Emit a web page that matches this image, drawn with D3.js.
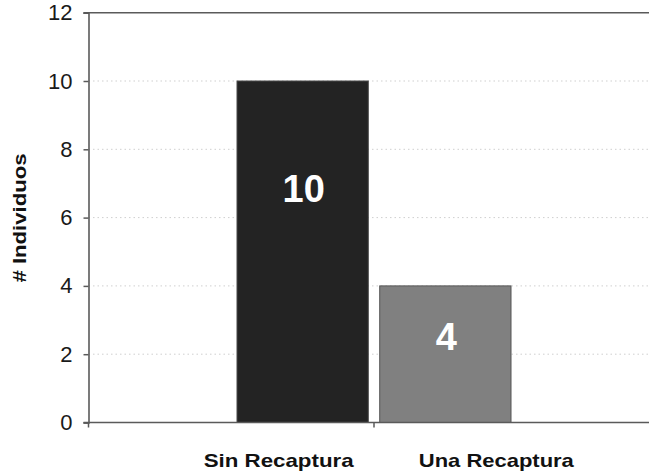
<!DOCTYPE html>
<html>
<head>
<meta charset="utf-8">
<script src="https://cdn.jsdelivr.net/npm/d3@7"></script>
<style>
  html, body { margin: 0; padding: 0; background: #fff; }
  svg { display: block; font-family: Arial, "Liberation Sans", sans-serif; }
</style>
</head>
<body>
<svg id="chart" width="649" height="473"></svg>
<script>
// ---- data ----
const categories = ["Sin Recaptura", "Una Recaptura"];
const values = [10, 4];
const barColors = ["#232323", "#808080"];
const yTicks = [0, 2, 4, 6, 8, 10, 12];
const yTitle = "# Individuos";

// ---- layout ----
const W = 649, H = 473;
const axisX = 88.5, axisY = 422.5, topY = 12.7;
const svg = d3.select("#chart");

const y = d3.scaleLinear().domain([0, 12]).range([axisY, topY]);
const x = d3.scaleBand().domain(categories).range([237, 511]).paddingInner(0.08);

// gridlines (dotted)
svg.append("g").selectAll("line")
  .data(yTicks.filter(t => t > 0 && t < 12))
  .join("line")
  .attr("x1", axisX).attr("x2", W)
  .attr("y1", d => y(d)).attr("y2", d => y(d))
  .attr("stroke", "#cfcfcf").attr("stroke-width", 1)
  .attr("stroke-dasharray", "1.5,3");

// top border line
svg.append("line")
  .attr("x1", axisX - 5).attr("x2", W)
  .attr("y1", y(12)).attr("y2", y(12))
  .attr("stroke", "#5a5a5a").attr("stroke-width", 1.6);

// bars
svg.append("g").selectAll("rect")
  .data(values)
  .join("rect")
  .attr("x", (d, i) => x(categories[i]))
  .attr("width", x.bandwidth())
  .attr("y", d => y(d))
  .attr("height", d => y(0) - y(d))
  .attr("fill", (d, i) => barColors[i])
  .attr("stroke", (d, i) => i === 0 ? "#4a4a4a" : "#555")
  .attr("stroke-width", 1);

// y axis
const yAxis = d3.axisLeft(y).tickValues(yTicks).tickSize(5).tickPadding(11).tickFormat(d3.format("d"));
const gy = svg.append("g").attr("transform", `translate(${axisX},0)`).call(yAxis);
gy.select(".domain").attr("stroke", "#5a5a5a").attr("stroke-width", 1.6);
gy.selectAll(".tick line").attr("stroke", "#5a5a5a").attr("stroke-width", 1.5);
gy.selectAll(".tick text")
  .attr("font-size", 22).attr("fill", "#1a1a1a")
  .attr("font-family", "Arial, 'Liberation Sans', sans-serif");

// x axis line
svg.append("line")
  .attr("x1", axisX - 5).attr("x2", W)
  .attr("y1", axisY).attr("y2", axisY)
  .attr("stroke", "#5a5a5a").attr("stroke-width", 1.6);

// x ticks: origin and between categories
const step = x.step();
const xTickPos = [axisX, x(categories[1]) - (step - x.bandwidth()) / 2];
svg.append("g").selectAll("line")
  .data(xTickPos)
  .join("line")
  .attr("x1", d => d).attr("x2", d => d)
  .attr("y1", axisY).attr("y2", axisY + 5)
  .attr("stroke", "#5a5a5a").attr("stroke-width", 1.5);

// category labels
const labelShift = [-24, 51];
const labelWidth = [150, 155];
svg.append("g").selectAll("text")
  .data(categories)
  .join("text")
  .attr("x", (d, i) => x(d) + x.bandwidth() / 2 + labelShift[i])
  .attr("y", 467)
  .attr("text-anchor", "middle")
  .attr("font-size", 18.5).attr("font-weight", "bold").attr("fill", "#111")
  .attr("textLength", (d, i) => labelWidth[i])
  .attr("lengthAdjust", "spacingAndGlyphs")
  .text(d => d);

// value labels inside bars
const labelFrac = [0.685, 0.63];
svg.append("g").selectAll("text")
  .data(values)
  .join("text")
  .attr("x", (d, i) => x(categories[i]) + x.bandwidth() / 2 + 1)
  .attr("y", (d, i) => y(d * labelFrac[i]))
  .attr("dy", "0.36em")
  .attr("text-anchor", "middle")
  .attr("font-size", 38).attr("font-weight", "bold").attr("fill", "#fff")
  .text(d => d);

// y title
svg.append("text")
  .attr("transform", `translate(26,218) rotate(-90)`)
  .attr("text-anchor", "middle")
  .attr("font-size", 19).attr("font-weight", "bold").attr("fill", "#111")
  .attr("textLength", 129).attr("lengthAdjust", "spacingAndGlyphs")
  .text(yTitle);
</script>
</body>
</html>
